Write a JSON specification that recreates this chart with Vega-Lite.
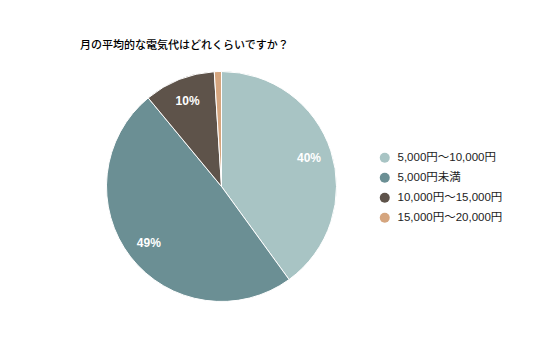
{
  "$schema": "https://vega.github.io/schema/vega-lite/v6.json",
  "autosize": {"type": "none"},
  "padding": {"left": 0, "top": 60, "right": 93, "bottom": 0},
  "width": 443,
  "height": 253,
  "background": "white",
  "title": {
    "text": "月の平均的な電気代はどれくらいですか？",
    "anchor": "start",
    "frame": "group",
    "dx": 80,
    "offset": 9,
    "fontSize": 11,
    "fontWeight": 500,
    "font": "Liberation Sans, Noto Sans CJK JP",
    "color": "#000000"
  },
  "data": {
    "values": [
      {"category": "5,000円～10,000円", "value": 0.40, "rank": 1},
      {"category": "5,000円未満", "value": 0.49, "rank": 2},
      {"category": "10,000円～15,000円", "value": 0.10, "rank": 3},
      {"category": "15,000円～20,000円", "value": 0.01, "rank": 4}
    ]
  },
  "encoding": {
    "theta": {"field": "value", "type": "quantitative", "stack": true},
    "order": {"field": "rank", "type": "quantitative"}
  },
  "layer": [
    {
      "mark": {"type": "arc", "outerRadius": 115, "stroke": "white", "strokeWidth": 1},
      "encoding": {
        "color": {
          "field": "category",
          "type": "nominal",
          "sort": ["5,000円～10,000円", "5,000円未満", "10,000円～15,000円", "15,000円～20,000円"],
          "scale": {
            "domain": ["5,000円～10,000円", "5,000円未満", "10,000円～15,000円", "15,000円～20,000円"],
            "range": ["#a8c4c4", "#6b8f94", "#5e534a", "#d5a57e"]
          },
          "legend": {
            "title": null,
            "orient": "none",
            "legendX": 379,
            "legendY": 92,
            "padding": 0,
            "symbolType": "circle",
            "symbolSize": 100,
            "symbolStrokeWidth": 0,
            "labelFontSize": 11.5,
            "labelFont": "Liberation Sans, Noto Sans CJK JP",
            "labelColor": "#222222",
            "labelOffset": 7,
            "rowPadding": 7
          }
        }
      }
    },
    {
      "mark": {"type": "text", "radius": 92, "fontWeight": "bold", "fontSize": 12, "font": "Liberation Sans, Arial"},
      "encoding": {
        "detail": {"field": "category", "type": "nominal"},
        "color": {"value": "white"},
        "text": {
          "condition": {"test": "datum.value < 0.05", "value": ""},
          "field": "value",
          "type": "quantitative",
          "format": ".0%"
        }
      }
    }
  ]
}
